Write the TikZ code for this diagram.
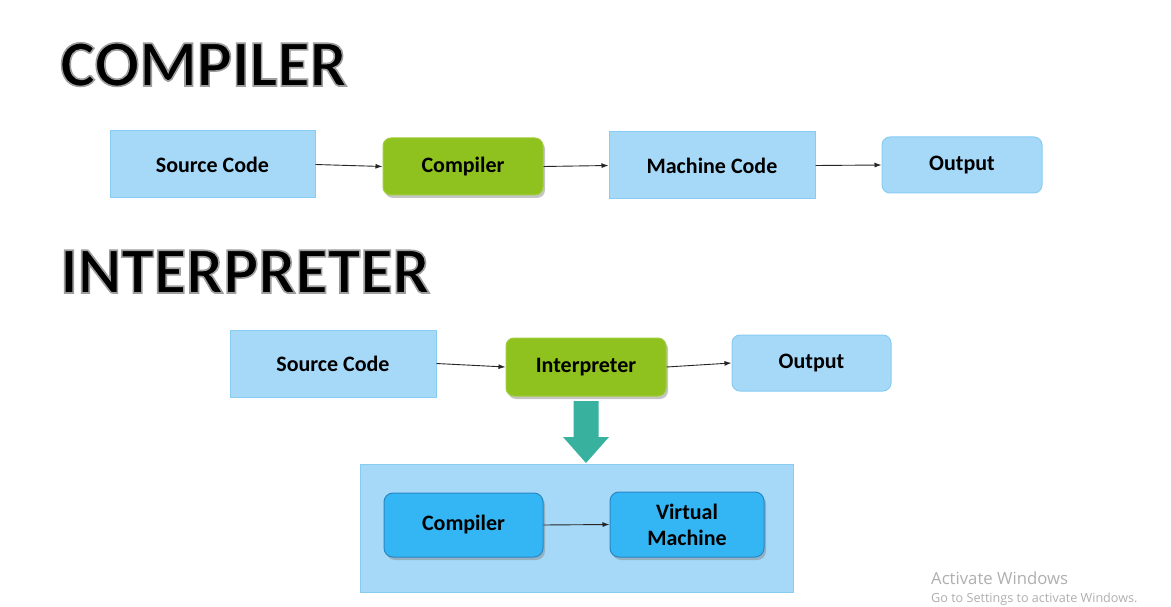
\documentclass[tikz,border=0pt]{standalone}
\usepackage{fontspec}
\setmainfont{Carlito}
\newfontfamily\winfont{Open Sans}
\usetikzlibrary{arrows.meta,shadows}
\definecolor{lbfill}{RGB}{166,216,248}
\definecolor{lbdraw}{RGB}{136,204,242}
\definecolor{gfill}{RGB}{143,194,30}
\definecolor{gdraw}{RGB}{160,205,60}
\definecolor{ibfill}{RGB}{52,182,245}
\definecolor{ibdraw}{RGB}{40,135,195}
\definecolor{teal}{RGB}{56,178,158}
\definecolor{wingray}{RGB}{175,175,175}
\newcommand{\outlinetitle}[1]{\special{pdf:code 2 Tr 0.62 G 1.6 w}#1\special{pdf:code 0 Tr 0 G}}
\tikzset{
  boxtxt/.style={font=\bfseries\fontsize{22}{26}\selectfont, text=black, align=center, inner sep=0pt},
  sqbox/.style={boxtxt, draw=lbdraw, fill=lbfill, line width=1pt},
  rdbox/.style={boxtxt, draw=lbdraw, fill=lbfill, line width=1pt, rounded corners=8pt},
  grbox/.style={boxtxt, draw=gdraw, fill=gfill, line width=1pt, rounded corners=8pt,
     drop shadow={opacity=0.45, shadow xshift=2pt, shadow yshift=-3pt}},
  inbox/.style={boxtxt, draw=ibdraw, fill=ibfill, line width=1pt, rounded corners=9pt,
     drop shadow={opacity=0.45, shadow xshift=2pt, shadow yshift=-3pt}},
  conn/.style={draw=black!85, line width=0.9pt, -{Latex[length=7pt,width=5pt]}},
  title/.style={font=\bfseries\fontsize{66}{70}\selectfont, inner sep=0pt, anchor=base west},
  wintxt/.style={text=wingray, inner sep=0pt, anchor=base west}
}
\begin{document}
\begin{tikzpicture}[x=1pt,y=-1pt]
\useasboundingbox (0,0) rectangle (1171,607);
\fill[white] (0,0) rectangle (1171,607);
% titles
\node[title] (t1) at (60,86) {\outlinetitle{COMPILER}};
\node[title] (t2) at (60,293) {\outlinetitle{INTERPRETER}};
% compiler row
\node[sqbox, minimum width=205pt, minimum height=67pt] (sc1) at (212.5,164.5) {Source Code};
\node[grbox, minimum width=160pt, minimum height=57pt] (cp1) at (463,166.5) {Compiler};
\node[sqbox, minimum width=206pt, minimum height=67pt] (mc) at (712,165.5) {Machine Code};
\node[rdbox, minimum width=160pt, minimum height=56pt] (out1) at (962,165) {Output};
\draw[conn] (sc1.east) -- (cp1.west);
\draw[conn] (cp1.east) -- (mc.west);
\draw[conn] (mc.east) -- (out1.west);
% interpreter row
\node[sqbox, minimum width=206pt, minimum height=67pt] (sc2) at (333,363.5) {Source Code};
\node[grbox, minimum width=160pt, minimum height=58pt] (ip) at (586,367) {Interpreter};
\node[rdbox, minimum width=159pt, minimum height=56pt] (out2) at (811.5,363) {Output};
\draw[conn] (sc2.east) -- (ip.west);
\draw[conn] (ip.east) -- (out2.west);
% big box
\node[draw=lbdraw, fill=lbfill, line width=1pt, minimum width=433pt, minimum height=128pt, inner sep=0pt] (vmbox) at (576.5,528) {};
\node[inbox, minimum width=159pt, minimum height=64pt] (cp2) at (463.5,525) {Compiler};
\node[inbox, minimum width=154pt, minimum height=65pt] (vm) at (687,524.5) {Virtual\\Machine};
\draw[conn] (cp2.east) -- (vm.west);
% teal block arrow
\fill[teal] (573.5,401) -- (598.5,401) -- (598.5,437) -- (609,437) -- (586,463) -- (563,437) -- (573.5,437) -- cycle;
% watermark
\node[wintxt, font=\winfont\fontsize{16.7}{19}\selectfont] (w1) at (931,584) {Activate Windows};
\node[wintxt, font=\winfont\fontsize{12.6}{15}\selectfont] (w2) at (931,602) {Go to Settings to activate Windows.};
\end{tikzpicture}
\end{document}
